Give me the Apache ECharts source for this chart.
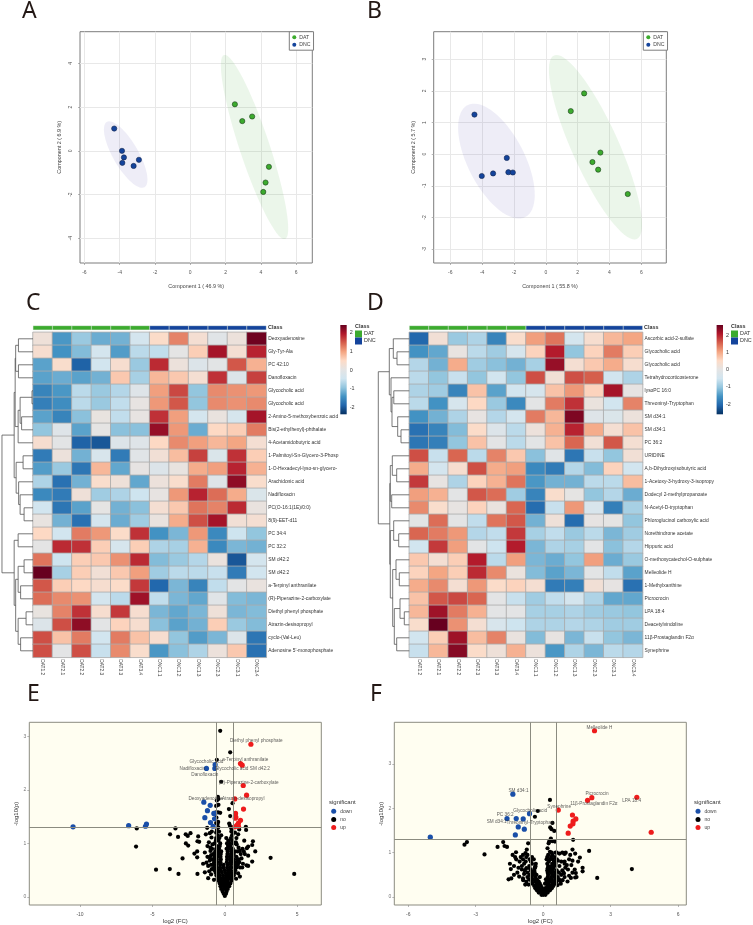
<!DOCTYPE html>
<html>
<head>
<meta charset="utf-8">
<style>
  html, body { margin: 0; padding: 0; background: #fff; }
  #main { width: 753px; height: 925px; }
</style>
<script src="https://cdn.jsdelivr.net/npm/echarts@6/dist/echarts.min.js"></script>
</head>
<body>
<div id="main"></div>
<script>
// PCA scores
const pcaA_DAT = [[2.53,2.13],[2.95,1.36],[3.51,1.57],[4.46,-0.73],[4.27,-1.45],[4.14,-1.88]]
const pcaA_DNC = [[-4.31,1.02],[-3.87,0],[-3.76,-0.30],[-3.85,-0.55],[-3.21,-0.69],[-2.91,-0.41]]
const pcaB_DAT = [[2.41,1.92],[1.57,1.36],[3.43,0.05],[2.93,-0.25],[3.29,-0.49],[5.15,-1.26]]
const pcaB_DNC = [[-4.48,1.25],[-4.02,-0.69],[-3.31,-0.61],[-2.45,-0.12],[-2.35,-0.57],[-2.07,-0.58]]
// ellipses: centre x, centre y, major vector x, y, minor vector x, y
const ellipseA_DAT = [3.645,0.175,1.73,-4.21,0.806,0.216]
const ellipseA_DNC = [-3.66,-0.17,1.067,-1.492,0.621,0.29]
const ellipseB_DAT = [3.12,0.22,2.60,-2.90,1.336,0.304]
const ellipseB_DNC = [-3.10,-0.22,1.816,-1.769,1.581,0.413]

// heatmaps
const sampleNames = ['DAT1.2','DAT2.1','DAT2.2','DAT2.3','DAT3.3','DAT3.4','DNC1.1','DNC1.2','DNC1.3','DNC2.3','DNC3.1','DNC3.4']
const rowNamesC = ['Deoxyadenosine','Gly-Tyr-Ala','PC 42:10','Danofloxacin','Glycocholic acid','Glycocholic acid','2-Amino-5-methoxybenzoic acid','Bis(2-ethylhexyl)-phthalate','4-Acetamidobutyric acid','1-Palmitoyl-Sn-Glycero-3-Phosp','1-O-Hexadecyl-lyso-sn-glycero-','Arachidonic acid','Nadifloxacin','PC(O-16:1(1E)/0:0)','8(9)-EET-d11','PC 34:4','PC 32:2','SM d42:2','SM d42:2','a-Terpinyl anthranilate','(R)-Piperazine-2-carboxylate','Diethyl phenyl phosphate','Atrazin-desisopropyl','cyclo-(Val-Leu)','Adenosine 5\'-monophosphate']
const heatC = [
  [.2,-1.4,-.9,-1.2,-1.15,-.4,.45,1.2,.3,-.1,.15,2.35],
  [.35,-1.45,-1.05,-.4,-1.35,-.65,-.6,0,.6,2,.3,1.85],
  [-1.3,.4,-1.95,-.45,.35,-.9,1.8,.15,-.2,-.05,1.5,.85],
  [-1.3,-1.2,-1.3,-1.15,.65,-.8,.8,.65,.3,1.75,-.2,1.65],
  [-1.6,-1.4,-.65,-.9,-.7,-.15,1,1.6,-.95,1.15,1.1,1.05],
  [-1.65,-1.5,-.65,-.9,-.6,.05,1.05,1.5,-.95,1.15,1.1,1.15],
  [-1.3,-1.6,-1,.08,-.6,.05,1.75,1,-.4,.1,-.35,2],
  [-.95,-.15,-1.3,.02,-1,-1,2.1,1.05,-1.2,.5,.6,1.25],
  [.35,-.05,-1.95,-2.05,-.2,-.15,.5,1.15,1,.8,.95,.3],
  [-1.7,.15,-1.15,-.3,-1.7,-.1,.25,.75,1.65,-.25,1.75,.6],
  [-1.35,-.9,-1.75,.8,-1.25,.03,-.2,.08,.9,1,1.85,.85],
  [-.75,-1.8,-1.15,.4,.2,-1.25,.15,.4,1.25,-.15,2.15,.4],
  [-1.55,-1.7,.2,-.85,-.75,-.5,.05,1.05,1.85,1.35,.9,-.25],
  [-.45,-1.75,-1.3,.02,-1.15,-1,.3,.65,1.3,1.2,1.8,.1],
  [.07,-1.15,-1.8,-.4,-1.2,-.85,.1,.9,1.55,2,.25,.3],
  [.5,-.45,1.25,1.05,.45,1.75,-1.45,-1.1,1.05,-1.55,-.5,-.95],
  [0,1.8,1.75,.6,-.35,.6,-.75,-.8,.85,-1.55,-1.1,-1.15],
  [1.3,-.5,.6,.65,1.1,1.8,-1.05,-.9,-.7,.12,-2.05,-.4],
  [2.4,-.8,.6,.25,.65,1,-.85,-.65,-.65,-.55,-1.7,-.45],
  [1.5,.6,.5,.35,.45,1.7,-1.9,-1.1,-1.6,-.6,-.02,.1],
  [1.35,1.15,1.1,-.4,-.65,2.05,-.6,-1.1,-1.25,-.1,-1.05,-1.1],
  [.08,1.2,1.75,.35,1.7,.35,-1.1,-1.25,-1.1,.2,-1.1,-1.05],
  [-.2,1.55,2.15,-.02,.55,.35,-1,-1.3,-1.15,.6,-.9,-1.05],
  [1.55,.7,1.25,-.45,1.25,.7,.35,-.95,-1.35,-1.1,-.2,-1.75],
  [1.55,-.02,1.55,-.55,1.15,.4,-1.4,-1,-.75,.15,.65,-1.8]
]
const rowNamesD = ['Ascorbic acid-2-sulfate','Glycocholic acid','Glycocholic acid','Tetrahydrocorticosterone','lysoPC 16:0','Threoninyl-Tryptophan','SM d34:1','SM d34:1','PC 36:2','URIDINE','A,b-Dihydroxyisobutyric acid','1-Acetoxy-3-hydroxy-3-isopropy','Dodecyl 2-methylpropanoate','N-Acetyl-D-tryptophan','Phloroglucinol carboxylic acid','Norethindrone acetate','Hippuric acid','O-methoxycatechol-O-sulphate','Melleolide H','1-Methylxanthine','Picrocrocin','LPA 18:4','Deacetylvindoline','11β-Prostaglandin F2α','Synephrine']
const heatD = [
  [-1.9,.25,-.9,-.75,-1.6,.4,1,1.3,-.4,.35,.8,.95],
  [-1.45,-1.25,.07,-.65,-.85,-.35,.55,1.9,-.95,.55,1.25,.6],
  [-.7,-1.15,.9,-.85,-1,-1.15,-.8,2.1,.3,.65,.9,.35],
  [-.65,-.95,-.55,-.95,-.45,-.95,1.55,.25,1.55,1.45,-.45,-.75],
  [-.75,-.85,-1.6,.7,-1.3,-.45,-.35,.7,1.05,.55,2,.03],
  [-.65,-1.45,-.35,.5,-.9,-1.55,-.03,1.25,1.75,.12,-.45,1.2],
  [-1.45,-1.15,-.75,.05,-.7,-.4,1.25,.8,2.25,-.15,-.25,.15],
  [-1.8,-1.6,-1.05,.45,-.2,-.65,.15,.85,1.85,.9,.3,.7],
  [-1.75,-1.65,-.95,.7,-.03,-.65,-.05,.7,1.4,.25,1.5,.3],
  [1.55,-.55,1.4,-.65,1.2,.65,-1,-.1,-1.75,-.55,-.95,.25],
  [.9,-.4,.35,1.55,.9,1,-1.55,-1.7,-.7,-1.05,.55,-.45],
  [1.7,.05,-.75,.55,.85,1.3,-1.4,-1.15,-1.15,-.65,-.65,.75],
  [1,.85,-.03,1.5,1.35,-.85,-1.6,.4,.02,-.95,-.7,-1.2],
  [1.15,.4,.05,.55,.1,1.4,-1.85,-.55,1.05,-.3,-1.65,-.8],
  [-.05,1.35,-.02,-.6,1.3,1.5,-1.15,.2,-1.85,.03,.02,-.95],
  [1.4,1.25,1.05,-.7,-.6,1.7,-.8,-.6,-.9,-.65,-1.1,-.85],
  [-.45,1.7,1,-.03,-.5,1.9,-1.1,-.75,-.8,-.03,-1,-.7],
  [.65,.3,.6,1.9,-.65,1,-1.1,-1.2,-.95,1,-1.2,-.9],
  [.55,.95,.6,1.8,1.15,.12,-1.05,-1.3,-1.1,-.05,-.6,-1.3],
  [.9,1.15,.3,1.05,.45,.55,.3,-1.7,-1.65,.25,.03,-1.8],
  [.7,1.5,1.6,1.4,-.03,-.55,-.85,-.6,-.4,-.75,-1.25,-1.25],
  [.8,2.05,1.25,.85,-.03,-.03,-.8,-.8,-.75,-.85,-.9,-.95],
  [.4,2.4,1.1,.3,-.3,-.5,-.75,-.75,-.7,-.75,-.85,-.85],
  [-.45,.6,2.05,.75,1.2,.1,-1.05,.05,-1.1,-.55,-.95,-1.1],
  [-.55,.8,2.2,.45,.2,.85,.15,-1.4,-.75,-1.1,-.65,-.7]
]
// dendrograms, like hclust merges: negative = row number, positive = earlier merge, then height
const mergeC = [[-1,-2,14.7],[-3,-4,14.7],[1,2,17.5],[-5,-6,1],[-7,-8,11.5],[4,5,13],[6,-9,15],[3,7,18],[-10,-11,10],[-14,-15,9],[10,-13,13],[11,-12,14.5],[9,12,17],[8,13,19],[-16,-17,15],[-18,-19,9],[-20,-21,12.5],[16,17,15],[-22,-23,7],[-24,-25,12.5],[19,20,15],[18,21,17.5],[15,22,19],[14,23,31.3]]
const mergeD = [[-2,-3,12.3],[-1,1,16],[-8,-9,8.3],[3,-7,11.6],[-5,-6,15.5],[5,4,17.3],[-4,6,18.3],[2,7,20],[-11,-12,12.6],[-10,9,17],[-13,-14,17.6],[10,11,19],[-16,-17,10.6],[-15,13,15.6],[-19,-20,10],[-18,15,13.3],[-22,-23,5],[-21,17,9.3],[-24,-25,12.6],[18,19,15],[16,20,16.6],[14,21,19],[12,22,19.5],[8,23,31]]

// volcano E
const downE = [[-10.48,1.31],[-6.64,1.33],[-5.48,1.32],[-5.41,1.36],[-1.27,2.40],[-.69,2.40],[-.67,2.47],[-1.45,1.77],[-1.01,1.71],[-1.2,1.61],[-.76,1.56],[-.69,1.56],[-1.38,1.48],[-.71,1.46],[-.99,1.39],[-.81,1.32]]
const upE = [[1.8,2.85],[1.08,2.49],[1.2,2.46],[1.27,2.08],[1.5,1.9],[.69,1.83],[1.29,1.64],[.74,1.56],[.76,1.49],[.72,1.47],[1.08,1.43],[.94,1.38],[.69,1.31],[.94,1.32],[.85,1.34]]
const noE = [
  [-.32,3.1],[.37,2.7],[-.55,2.56],[-.25,2.15],[-.48,1.87],[-.44,1.83],[.53,1.75],[-.55,1.8],[-.44,1.72],[-.6,1.7],[.28,1.64],[-.6,1.58],[-.46,1.58],[-.32,1.57],[.37,1.51],[-.58,1.48],[-.46,1.4],[-.6,1.38],[.3,1.37],[.35,1.33],[-.5,1.36],
  [-6.08,1.28],[-6.13,.94],[-3.41,1.28],[-3.78,1.17],[-3.23,1.12],[-2.7,1.17],[-2.56,1.14],[-2.37,1.19],[-2.69,1.0],[-2.53,.96],[-1.84,1.13],[-1.77,1.03],[-1.89,1.04],[-2.1,.81],[-1.91,.85],[-1.91,.74],[-2.92,.72],[-4.75,.51],[-3.8,.52],[-3.2,.43],[-1.89,.43],[3.16,.73],[4.79,.43],
  [1.89,.66],[2.1,.85],[1.94,1.04],[1.89,.97],[1.45,1.31],[1.47,1.25],[1.34,1.05],[1.61,.94],[1.52,.91],[1.31,.85],[1.5,.59],[1.61,.58],[.92,.44],[1.04,.38],[1.15,.72],[.76,1.02],[.92,1.17],[.58,1.2],[.99,1.26],[1.22,.9],[1.38,.8],[1.61,.77],[1.04,.86],
  [-1.31,1.17],[-1.04,1.19],[-.92,1.11],[-1.22,1.29],[-1.38,.83],[-.99,.86],[-1.38,.46],[-1.08,.48],[-1.5,.62],[-1.27,.64],[-1.04,.68],[-1.04,.74],[-.8,.8],[-.9,1.22],[-1.1,1.02],[-.85,.98],[-1,.92],[-.95,.6],[-.9,.52],[-.95,.42],[.9,.6],[1.05,.55],[.95,.7],[1.1,.8],[.8,1.1],[.7,1.2],[.45,1.22],[.5,1.15],[-.6,1.2],[.55,1.3],[.45,1.28],
  [-1.15,.58],[-1.2,.75],[-.95,.78],[-.85,.7],[-.88,.9],[1,.65],[.95,.92],[.88,.85],[1.25,.62],[1.2,.55],[-1.15,.35],[-.75,.32],[.78,.34],[-1.2,.95],[.82,.98],
  [0,.02],[-.08,.06],[.08,.06],[-.15,.1],[.12,.1],[-.25,.15],[.2,.15],[0,.15],[-.3,.2],[-.1,.2],[.1,.2],[.3,.2],[-.35,.25],[-.15,.25],[.05,.25],[.25,.25],[.38,.25],
  [-.42,.3],[-.22,.3],[0,.3],[.2,.3],[.44,.3],[-.5,.35],[-.3,.35],[-.08,.35],[.12,.35],[.32,.35],[.52,.35],[-.58,.4],[-.36,.4],[-.12,.4],[.1,.4],[.3,.4],[.5,.4],[.62,.4],
  [-.64,.45],[-.44,.45],[-.2,.45],[.04,.45],[.26,.45],[.46,.45],[.68,.45],[-.72,.5],[-.5,.5],[-.28,.5],[-.02,.5],[.22,.5],[.42,.5],[.72,.5],[-.75,.55],[-.55,.55],[-.33,.55],[-.1,.55],[.16,.55],[.4,.55],[.62,.55],[.8,.55],
  [-.78,.6],[-.56,.6],[-.32,.6],[-.08,.6],[.2,.6],[.42,.6],[.66,.6],[.85,.6],[-.74,.65],[-.52,.65],[-.3,.65],[.14,.65],[.38,.65],[.6,.65],[.82,.65],[-.76,.7],[-.55,.7],[-.28,.7],[.16,.7],[.4,.7],[.6,.7],[.84,.7],
  [-.7,.75],[-.5,.75],[-.3,.75],[.15,.75],[.35,.75],[.55,.75],[.8,.75],[-.72,.8],[-.48,.8],[-.28,.8],[.18,.8],[.42,.8],[.62,.8],[-.66,.85],[-.44,.85],[-.25,.85],[.2,.85],[.45,.85],[.7,.85],
  [-.6,.9],[-.4,.9],[.12,.9],[.34,.9],[.55,.9],[-.55,.95],[-.35,.95],[.22,.95],[.4,.95],[-.7,1],[-.32,1],[.15,1],[.36,1],[.6,1],[-.62,1.05],[-.44,1.05],[.24,1.05],[.5,1.05],[-.6,1.1],[-.38,1.1],[.1,1.1],[.42,1.1],[-.5,1.15],[-.25,1.15],[-.55,1.25],[-.4,1.22],[-.45,1.3]
]

// volcano F
const downF = [[-5.02,1.35],[-1.35,2.32],[-.61,1.88],[-1.61,1.77],[-1.2,1.77],[-.89,1.76],[-1.11,1.58],[-.84,1.53],[-1.24,1.4]]
const upF = [[2.28,3.75],[2.16,2.24],[1.97,2.18],[4.16,2.25],[.67,1.96],[1.3,1.85],[1.45,1.76],[1.33,1.71],[1.32,1.65],[1.2,1.6],[1.11,1.44],[4.8,1.46]]
const noF = [
  [.3,2.19],[-.24,1.94],[-.37,1.81],[.41,1.67],[.31,1.57],[.37,1.53],[.49,1.49],[1.33,1.29],[.34,1.32],[.27,1.26],[.41,1.26],[.52,1.25],[.24,1.21],[.19,1.1],[-.67,1.21],[-.73,1.07],[-.79,.99],[2.04,1.04],[1.3,1.07],
  [-3.39,1.24],[-3.5,1.18],[-2.61,.96],[-2.03,1.13],[-1.78,1.24],[-1.72,1.15],[-1.61,1.13],[-1.36,.95],[-1.21,1.01],[3.94,.63],[2.4,.43],[-1.48,.75],[-1.44,.63],[-1.54,.4],[-1.42,.42],[1.75,.66],[1.75,.58],[1.63,.89],[1.4,.62],
  [.95,.8],[.98,.66],[1.45,.54],[1.48,.45],[1.42,.44],[1.23,.43],[.92,.53],[.86,.38],[.74,.37],[.64,.27],[1.2,.95],[1.0,1.0],[.3,1.02],[.38,1.0],[.72,.98],[1.42,.98],
  [-1.3,.7],[-1.15,.55],[-1.05,.8],[-1.3,.5],[-1.1,.66],[-1,.9],[-1.25,.9],[1.05,.72],[1.15,.85],[1.1,.62],[1.25,.72],[1.3,.55],[1.15,.48],[.95,.45],[1.08,.35],[-.75,.35],[-.8,.28],[-.65,.28],[.78,.3],[1.55,.8],[1.3,.82],
  [0,.05],[-.08,.05],[.1,.05],[-.2,.1],[-.05,.1],[.08,.1],[.2,.1],[-.28,.15],[-.12,.15],[.02,.15],[.15,.15],[.3,.15],[-.35,.2],[-.2,.2],[-.05,.2],[.1,.2],[.25,.2],[.38,.2],[-.4,.25],[-.25,.25],[-.1,.25],[.18,.25],[.32,.25],[.45,.25],
  [-.48,.3],[-.3,.3],[-.15,.3],[.08,.3],[.22,.3],[.4,.3],[.52,.3],[-.52,.35],[-.36,.35],[-.2,.35],[.15,.35],[.3,.35],[.46,.35],[.6,.35],[-.62,.4],[-.45,.4],[-.28,.4],[.12,.4],[.24,.4],[.38,.4],[.55,.4],[.7,.4],[-1.07,.46],[-.89,.38],
  [-.7,.45],[-.52,.45],[-.35,.45],[-.15,.45],[.2,.45],[.35,.45],[.5,.45],[.65,.45],[-.6,.5],[-.45,.5],[-.3,.5],[.22,.5],[.4,.5],[.55,.5],[.8,.5],[-.7,.55],[-.5,.55],[-.38,.55],[.2,.55],[.35,.55],[.52,.55],[.7,.55],[.9,.55],
  [-.82,.6],[-.55,.6],[-.4,.6],[.18,.6],[.3,.6],[.42,.6],[.6,.6],[.85,.6],[-.75,.65],[-.6,.65],[-.38,.65],[-.35,.68],[.2,.65],[.32,.65],[.45,.65],[-.95,.7],[-.62,.7],[-.35,.7],[.22,.7],[.38,.7],[.5,.7],[.72,.7],
  [-.85,.75],[-.5,.75],[-.33,.75],[.18,.75],[.4,.75],[.55,.75],[.95,.75],[-.78,.8],[-.55,.8],[.25,.8],[.48,.8],[.8,.8],[.65,.82],[-1.2,.85],[-.9,.85],[-.6,.85],[-.42,.85],[.15,.85],[.3,.85],[.42,.85],[.6,.85],
  [-.75,.9],[-.5,.9],[.18,.9],[.35,.9],[.52,.9],[-.9,.95],[-.7,.95],[.22,.95],[.4,.95],[.55,1],[.6,1.0],[.85,1.0],[.95,.97],[-.95,.62],[-.85,.52],[-.9,.42]
]

const columnsC = ['DAT','DAT','DAT','DAT','DAT','DAT','DNC','DNC','DNC','DNC','DNC','DNC']
const labelsE = [['Diethyl phenyl phosphate',2.17,2.91],['a-Terpinyl anthranilate',1.41,2.57],['Glycocholic acid',-1.27,2.53],['Nadifloxacin',-2.24,2.40],['Glycocholic acid',.46,2.40],['SM d42:2',2.42,2.40],['Danofloxacin',-1.38,2.29],['(R)-Piperazine-2-carboxylate',1.64,2.13],['Deoxyadenosine',-1.31,1.83],['Atrazin-desisopropyl',1.27,1.84]]
const labelsF = [['Melleolide H',2.5,3.82],['SM d34:1',-1.1,2.4],['Picrocrocin',2.39,2.32],['LPA 18:4',3.93,2.18],['11β-Prostaglandin F2α',2.25,2.11],['Synephrine',.71,2.03],['Glycocholic acid',-.58,1.95],['PC 36:2',-1.69,1.85],['SM d34:1',-2.07,1.70],['Threoninyl-Tryptophan',-.59,1.68]]

const GREEN = '#3cab2e'
const BLUE = '#14449c'
const RED = '#ee1c1c'
const VBLUE = '#1a4fa8'
const FONT = '"Liberation Sans", Arial, sans-serif'
const RDBU = ['#053061','#2166AC','#4393C3','#92C5DE','#D1E5F0','#E4E4E4','#FDDBC7','#F4A582','#D6604D','#B2182B','#67001F']

const grid = []
const xAxis = []
const yAxis = []
const series = []
const legend = []

function addGrid(g, x, y) {
    grid.push(g)
    x.gridIndex = grid.length - 1
    y.gridIndex = grid.length - 1
    xAxis.push(x)
    yAxis.push(y)
    return grid.length - 1
}

function valAxis(min, max, ticks, name, gap, opts) {
    return Object.assign({
        type: 'value', min, max, name,
        nameLocation: 'middle', nameGap: gap,
        nameTextStyle: { fontSize: 5.4, color: '#444', fontFamily: FONT },
        axisLine: { show: false, onZero: false },
        axisTick: { show: true, length: 2, customValues: ticks, lineStyle: { color: '#888', width: .6 } },
        axisLabel: { customValues: ticks, fontSize: 5, color: '#555', margin: 7, fontFamily: FONT },
        splitLine: { show: false }
    }, opts)
}

function hidden(min, max, inverse) {
    return { type: 'value', min, max, inverse: !!inverse, show: false }
}

function ellipseSeries(gi, e, color) {
    return {
        type: 'custom', xAxisIndex: gi, yAxisIndex: gi, silent: true, z: 1,
        data: [e],
        renderItem: function (params, api) {
            const pts = []
            for (let i = 0; i < 72; i++) {
                const t = i / 72 * Math.PI * 2
                pts.push(api.coord([
                    e[0] + e[2] * Math.cos(t) + e[4] * Math.sin(t),
                    e[1] + e[3] * Math.cos(t) + e[5] * Math.sin(t)
                ]))
            }
            return { type: 'polygon', shape: { points: pts }, style: { fill: color } }
        }
    }
}

function pcaPanel(box, xr, yr, xt, yt, xName, yName, yGap, dat, dnc, eDat, eDnc) {
    const line = { show: true, lineStyle: { color: '#e8e8e8', width: 1 } }
    const gi = addGrid(
        Object.assign({ show: true, borderColor: '#7d7d7d', borderWidth: 1, backgroundColor: '#fff' }, box),
        valAxis(xr[0], xr[1], xt, xName, 21, { splitLine: line }),
        valAxis(yr[0], yr[1], yt, yName, yGap, { splitLine: line, nameRotate: 90, axisLabel: { customValues: yt, rotate: 90, fontSize: 5, color: '#555', margin: 7, fontFamily: FONT } })
    )
    series.push(ellipseSeries(gi, eDat, 'rgba(60,170,50,0.10)'))
    series.push(ellipseSeries(gi, eDnc, 'rgba(70,50,170,0.09)'))
    series.push({ name: 'DAT', type: 'scatter', xAxisIndex: gi, yAxisIndex: gi, data: dat, symbolSize: 5.2, z: 3, itemStyle: { color: GREEN, opacity: 1, borderColor: '#1d3d1d', borderWidth: .6 } })
    series.push({ name: 'DNC', type: 'scatter', xAxisIndex: gi, yAxisIndex: gi, data: dnc, symbolSize: 5.2, z: 3, itemStyle: { color: BLUE, opacity: 1, borderColor: '#14264d', borderWidth: .6 } })
    legend.push({
        data: ['DAT', 'DNC'], orient: 'vertical', left: box.left + box.width - 23, top: box.top,
        width: 23, height: 18, padding: [3, 3, 3, 3], itemGap: 2.5, itemWidth: 4, itemHeight: 4, icon: 'circle',
        backgroundColor: '#fff', borderColor: '#7d7d7d', borderWidth: 1, borderRadius: 0,
        textStyle: { fontSize: 5.2, color: '#444', padding: [0, 0, 0, -2], fontFamily: FONT },
        itemStyle: { borderWidth: 0 }
    })
}

function heatPanel(left, rowNames, values, merges, barTicks, barRange) {
    const width = 233.3
    const cats = sampleNames
    // class bar
    const bi = addGrid(
        { left: left, width: width, top: 325.7, height: 4.3 },
        { type: 'category', data: cats, show: false },
        hidden(0, 1)
    )
    series.push({
        type: 'bar', xAxisIndex: bi, yAxisIndex: bi, barWidth: '100%', silent: true,
        data: columnsC.map(c => ({ value: 1, itemStyle: { color: c === 'DAT' ? GREEN : BLUE, borderColor: '#cfd8cf', borderWidth: .3 } }))
    })
    // main heatmap
    const hi = addGrid(
        { left: left, width: width, top: 332.3, height: 325 },
        {
            type: 'category', data: cats, position: 'bottom',
            axisLine: { show: false }, axisTick: { show: false }, splitArea: { show: false },
            axisLabel: { rotate: -90, fontSize: 4.8, color: '#444', margin: 2, interval: 0, fontFamily: FONT }
        },
        {
            type: 'category', data: rowNames, position: 'right', inverse: true,
            axisLine: { show: false }, axisTick: { show: false }, splitArea: { show: false },
            axisLabel: { fontSize: 4.9, color: '#333', margin: 2, interval: 0, fontFamily: FONT }
        }
    )
    const cells = []
    values.forEach((row, r) => row.forEach((v, c) => cells.push([c, r, v])))
    series.push({
        type: 'heatmap', xAxisIndex: hi, yAxisIndex: hi, data: cells, silent: true,
        itemStyle: { borderColor: '#a9a9a9', borderWidth: .8 }
    })
    // dendrogram
    const di = addGrid(
        { left: left - 33.3, width: 33.3, top: 332.3, height: 325 },
        hidden(0, 33.3, true),
        hidden(0, 25, true)
    )
    series.push({
        type: 'custom', xAxisIndex: di, yAxisIndex: di, silent: true,
        data: dendroSegments(merges),
        renderItem: function (params, api) {
            const a = api.coord([api.value(0), api.value(1)])
            const b = api.coord([api.value(2), api.value(3)])
            const ma = api.coord([api.value(4), api.value(1)])
            const mb = api.coord([api.value(4), api.value(3)])
            return { type: 'polyline', shape: { points: [a, ma, mb, b] }, style: { stroke: '#555', lineWidth: .8, fill: 'none' } }
        }
    })
    // colour bar
    const ci = addGrid(
        { left: left + 307.3, width: 6.4, top: 325, height: 89.3 },
        hidden(0, 1),
        valAxis(barRange[0], barRange[1], barTicks, '', 0, {
            position: 'right',
            axisTick: { show: false },
            axisLabel: { customValues: barTicks, fontSize: 5.4, color: '#333', margin: 3, fontFamily: FONT }
        })
    )
    series.push({
        type: 'custom', xAxisIndex: ci, yAxisIndex: ci, silent: true,
        data: [[0, barRange[1], 1, barRange[0]]],
        renderItem: function (params, api) {
            const p0 = api.coord([api.value(0), api.value(1)])
            const p1 = api.coord([api.value(2), api.value(3)])
            const stops = RDBU.slice().reverse().map((c, i) => ({ offset: i / 10, color: c }))
            return {
                type: 'rect',
                shape: { x: p0[0], y: p0[1], width: p1[0] - p0[0], height: p1[1] - p0[1] },
                style: { fill: new echarts.graphic.LinearGradient(0, 0, 0, 1, stops) }
            }
        }
    })
    return hi
}

function dendroSegments(merges) {
    const nodes = []
    const segs = []
    merges.forEach(m => {
        const pos = k => k < 0 ? { y: -k - .5, h: 0 } : nodes[k - 1]
        const a = pos(m[0])
        const b = pos(m[1])
        segs.push([a.h, a.y, b.h, b.y, m[2]])
        nodes.push({ y: (a.y + b.y) / 2, h: m[2] })
    })
    return segs
}

function volcanoPanel(box, xr, yr, xt, yt, yGap, no, down, up, labels, legendLeft) {
    const gi = addGrid(
        Object.assign({ show: true, borderColor: '#8b8b80', borderWidth: 1, backgroundColor: '#FFFEF1' }, box),
        valAxis(xr[0], xr[1], xt, 'log2 (FC)', 13, { nameTextStyle: { fontSize: 6, color: '#333', fontFamily: FONT } }),
        valAxis(yr[0], yr[1], yt, '-log10(p)', yGap, { nameRotate: 90, nameTextStyle: { fontSize: 6, color: '#333', fontFamily: FONT }, axisLabel: { customValues: yt, fontSize: 5, color: '#777', margin: 3, fontFamily: FONT } })
    )
    series.push({
        name: 'down', type: 'scatter', xAxisIndex: gi, yAxisIndex: gi, data: down, symbolSize: 5.2, z: 4,
        itemStyle: { color: VBLUE, opacity: 1 }
    })
    series.push({
        name: 'no', type: 'scatter', xAxisIndex: gi, yAxisIndex: gi, data: no, symbolSize: 4.2, z: 3,
        itemStyle: { color: '#000', opacity: 1 },
        markLine: {
            silent: true, symbol: 'none', animation: false, label: { show: false },
            lineStyle: { color: '#8b8b80', width: 1, type: 'solid', opacity: 1 },
            data: [{ xAxis: -0.585 }, { xAxis: 0.585 }, { yAxis: 1.3 }]
        }
    })
    series.push({
        name: 'up', type: 'scatter', xAxisIndex: gi, yAxisIndex: gi, data: up, symbolSize: 5.2, z: 4,
        itemStyle: { color: RED, opacity: 1 }
    })
    series.push({
        type: 'scatter', xAxisIndex: gi, yAxisIndex: gi, symbolSize: 0, silent: true, z: 5,
        data: labels.map(l => [l[1], l[2], l[0]]),
        label: { show: true, position: 'inside', formatter: p => p.data[2], fontSize: 4.7, color: '#333', fontFamily: FONT }
    })
    legend.push({
        data: ['down', 'no', 'up'], orient: 'vertical', left: legendLeft, top: 808.7, padding: 0,
        itemGap: 3.2, itemWidth: 5, itemHeight: 5, icon: 'circle',
        textStyle: { fontSize: 5, color: '#444', padding: [0, 0, 0, -1], fontFamily: FONT }
    })
}

pcaPanel({ left: 80, top: 31.7, width: 232.3, height: 231.3 }, [-6.25, 6.92], [-5.13, 5.45], [-6,-4,-2,0,2,4,6], [-4,-2,0,2,4], 'Component 1 ( 46.9 %)', 'Component 2 ( 6.9 %)', 18, pcaA_DAT, pcaA_DNC, ellipseA_DAT, ellipseA_DNC)
pcaPanel({ left: 433.7, top: 31.7, width: 232.6, height: 231.3 }, [-7.04, 7.57], [-3.44, 3.87], [-6,-4,-2,0,2,4,6], [-3,-2,-1,0,1,2,3], 'Component 1 ( 55.8 %)', 'Component 2 ( 5.7 %)', 18, pcaB_DAT, pcaB_DNC, ellipseB_DAT, ellipseB_DNC)

const heatIdxC = heatPanel(33, rowNamesC, heatC, mergeC, [-2,-1,0,1,2], [-2.38, 2.43])
const heatIdxD = heatPanel(409.3, rowNamesD, heatD, mergeD, [-2,-1,0,1,2], [-2.6, 2.63])
const heatSeries = series.map((s, i) => s.type === 'heatmap' ? i : -1).filter(i => i >= 0)

volcanoPanel({ left: 29.3, top: 722.3, width: 292, height: 186.7 }, [-13.5, 6.66], [-0.15, 3.26], [-10,-5,0,5], [0,1,2,3], 5, noE, downE, upE, labelsE, 331.2)
volcanoPanel({ left: 394.3, top: 722.3, width: 292, height: 186.7 }, [-6.62, 6.36], [-0.18, 3.94], [-6,-3,0,3,6], [0,1,2,3], 5, noF, downF, upF, labelsF, 695.5)

function letter(t, x, y) {
    return { type: 'text', x, y, style: { text: t, font: '23px "Noto Sans", sans-serif', fill: '#231815' } }
}
function small(t, x, y, bold, size) {
    return { type: 'text', x, y, style: { text: t, font: (bold ? 'bold ' : '') + (size || 5.4) + 'px ' + FONT, fill: '#333', verticalAlign: 'middle' } }
}
function classLegend(x) {
    return [
        small('Class', x, 327, true),
        { type: 'rect', shape: { x, y: 330.5, width: 7, height: 7 }, style: { fill: GREEN } },
        { type: 'rect', shape: { x, y: 337.5, width: 7, height: 7 }, style: { fill: BLUE } },
        small('DAT', x + 9, 334, false),
        small('DNC', x + 9, 341, false)
    ]
}

const chart = echarts.init(document.getElementById('main'), null, { renderer: 'canvas' })
chart.setOption({
    animation: false,
    backgroundColor: '#fff',
    textStyle: { fontFamily: FONT },
    grid, xAxis, yAxis, series, legend,
    visualMap: {
        show: false, type: 'continuous', min: -2.4, max: 2.4, dimension: 2,
        seriesIndex: heatSeries, inRange: { color: RDBU }
    },
    graphic: [
        letter('A', 22, 0), letter('B', 367, 0),
        letter('C', 26, 292), letter('D', 367, 292),
        letter('E', 27, 683), letter('F', 370, 683),
        small('Class', 268, 328, true),
        small('Class', 644, 328, true),
        small('significant', 329, 802, false, 6),
        small('significant', 694, 802, false, 6)
    ].concat(classLegend(355), classLegend(731 - 0))
})
</script>
</body>
</html>
